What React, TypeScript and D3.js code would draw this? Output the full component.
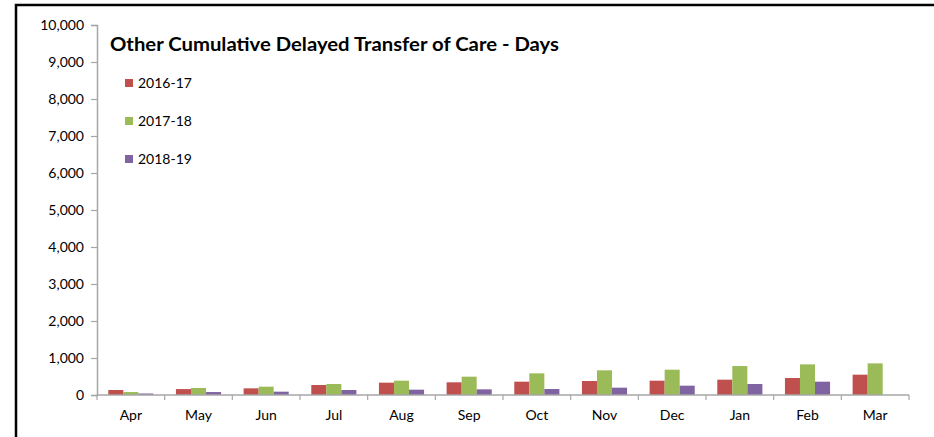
import React, { useRef, useEffect } from 'react';
import * as d3 from 'd3';

const months = ['Apr', 'May', 'Jun', 'Jul', 'Aug', 'Sep', 'Oct', 'Nov', 'Dec', 'Jan', 'Feb', 'Mar'];
const seriesNames = ['2016-17', '2017-18', '2018-19'];
const values2016 = [135, 160, 180, 270, 333, 343, 360, 378, 387, 414, 459, 549];
const values2017 = [80, 190, 225, 297, 387, 495, 585, 667, 684, 783, 828, 855];
const values2018: (number | null)[] = [40, 80, 90, 135, 144, 153, 162, 198, 252, 297, 360, null];
const yTicks = [0, 1000, 2000, 3000, 4000, 5000, 6000, 7000, 8000, 9000, 10000];
const colors = ['#c0504d', '#9bbb59', '#8064a2'];

const W = 934;
const H = 437;
const FONT = 'Lato, "Open Sans", sans-serif';

const App: React.FC = () => {
  const svgRef = useRef<SVGSVGElement>(null);

  useEffect(() => {
    if (!svgRef.current) return;
    const svg = d3.select(svgRef.current);
    svg.selectAll('*').remove();

    // chart frame (only left and top edges fall inside the window)
    svg.append('rect')
      .attr('x', 16)
      .attr('y', 5)
      .attr('width', W + 20)
      .attr('height', H + 20)
      .attr('fill', 'white')
      .attr('stroke', 'black')
      .attr('stroke-width', 2.5);

    const left = 97;
    const right = 909;
    const top = 25;
    const bottom = 395;

    const x = d3.scaleBand().domain(months).range([left, right]).paddingInner(0.3333).paddingOuter(0.1667);
    const xs = d3.scaleBand().domain(seriesNames).range([0, x.bandwidth()]);
    const y = d3.scaleLinear().domain([0, 10000]).range([bottom, top]);

    const axisColor = '#a6a6a6';

    // y axis
    const yAxis = svg.append('g').attr('transform', `translate(${left},0)`)
      .call(d3.axisLeft(y).tickValues(yTicks).tickSize(6).tickPadding(7).tickFormat(d3.format(',')));
    yAxis.select('.domain').attr('stroke', axisColor).attr('stroke-width', 1.5);
    yAxis.selectAll('.tick line').attr('stroke', axisColor).attr('stroke-width', 1.2);
    yAxis.selectAll('.tick text')
      .attr('fill', '#000')
      .attr('font-size', 14)
      .attr('font-family', FONT);

    // bars
    const all = [values2016, values2017, values2018];
    all.forEach((vals, si) => {
      svg.append('g').selectAll('rect')
        .data(months.map((m, i) => ({ m, v: vals[i] })).filter(d => d.v != null))
        .join('rect')
        .attr('x', d => (x(d.m) as number) + (xs(seriesNames[si]) as number))
        .attr('y', d => y(d.v as number))
        .attr('width', xs.bandwidth())
        .attr('height', d => bottom - y(d.v as number))
        .attr('fill', colors[si]);
    });

    // x axis
    const xAxis = svg.append('g').attr('transform', `translate(0,${bottom})`);
    xAxis.append('line')
      .attr('x1', left).attr('x2', right)
      .attr('y1', 0).attr('y2', 0)
      .attr('stroke', axisColor).attr('stroke-width', 1.5);
    const step = x.step();
    d3.range(months.length + 1).forEach(i => {
      const tx = left + i * step;
      xAxis.append('line')
        .attr('x1', tx).attr('x2', tx)
        .attr('y1', 0).attr('y2', 5)
        .attr('stroke', axisColor).attr('stroke-width', 1.2);
    });
    xAxis.selectAll('text.month')
      .data(months)
      .join('text')
      .attr('class', 'month')
      .attr('x', d => (x(d) as number) + x.bandwidth() / 2)
      .attr('y', 25)
      .attr('text-anchor', 'middle')
      .attr('font-size', 14)
      .attr('font-family', FONT)
      .attr('fill', '#000')
      .text(d => d);

    // title
    svg.append('text')
      .attr('x', 110)
      .attr('y', 51)
      .attr('font-size', 18)
      .attr('font-weight', 'bold')
      .attr('font-family', FONT)
      .attr('textLength', 449)
      .attr('lengthAdjust', 'spacingAndGlyphs')
      .attr('fill', '#000')
      .text('Other Cumulative Delayed Transfer of Care - Days');

    // legend
    const legend = svg.append('g');
    seriesNames.forEach((name, i) => {
      const ly = 83 + i * 38;
      legend.append('rect')
        .attr('x', 125)
        .attr('y', ly - 4)
        .attr('width', 8)
        .attr('height', 8)
        .attr('fill', colors[i]);
      legend.append('text')
        .attr('x', 138)
        .attr('y', ly + 5)
        .attr('font-size', 14)
        .attr('font-family', FONT)
        .attr('fill', '#000')
        .text(name);
    });
  }, []);

  return (
    <svg
      ref={svgRef}
      width={W}
      height={H}
      style={{ position: 'absolute', left: 0, top: 0, background: 'white' }}
    />
  );
};

export default App;
